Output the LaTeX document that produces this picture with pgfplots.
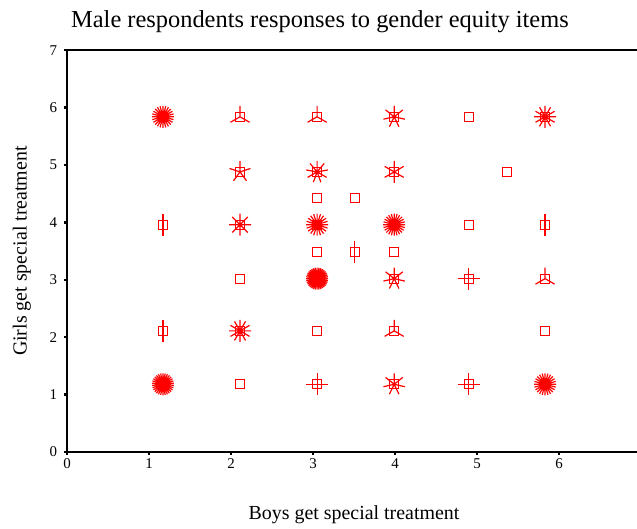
\documentclass[border=0pt]{standalone}
\usepackage{pgfplots}
\pgfplotsset{compat=1.18}
\usepackage{pgfplotstable}
\usepackage{fontspec}
\setmainfont{Liberation Serif}
\definecolor{sfred}{RGB}{255,0,0}

\pgfplotstableread{
x y n
1.17 5.84 24
2.11 5.84 3
3.05 5.84 3
3.99 5.84 7
4.90 5.84 1
5.83 5.84 12
2.11 4.88 5
3.05 4.88 9
3.99 4.88 6
5.37 4.88 1
3.05 4.43 1
3.51 4.43 1
1.17 3.96 2
2.11 3.96 8
3.05 3.96 20
3.99 3.96 24
4.90 3.96 1
5.83 3.96 2
3.05 3.49 1
3.51 3.49 2
3.99 3.49 1
2.11 3.02 1
3.05 3.02 36
3.99 3.02 7
4.90 3.02 4
5.83 3.02 3
1.17 2.11 2
2.11 2.11 12
3.05 2.11 1
3.99 2.11 3
5.83 2.11 1
1.17 1.18 30
2.11 1.18 1
3.05 1.18 4
3.99 1.18 7
4.90 1.18 4
5.83 1.18 24
}\sunflowers

\pgfdeclareplotmark{sunflower}{%
  \pgfmathtruncatemacro\np{\petals}%
  \ifnum\np>1
    \pgfmathsetmacro\stepang{360/\np}%
    \pgfplotsforeachungrouped \k in {1,...,\np}{%
      \pgfmathsetmacro\ang{90+\stepang*(\k-1)}%
      \pgfpathmoveto{\pgfpointorigin}%
      \pgfpathlineto{\pgfpointpolar{\ang}{11bp}}%
    }%
    \pgfusepathqstroke
  \fi
  {\pgfsetcornersarced{\pgfpoint{2.3bp}{2.3bp}}%
  \pgfpathmoveto{\pgfpoint{0bp}{-4.5bp}}%
  \pgfpathlineto{\pgfpoint{4.5bp}{-4.5bp}}%
  \pgfpathlineto{\pgfpoint{4.5bp}{4.5bp}}%
  \pgfpathlineto{\pgfpoint{-4.5bp}{4.5bp}}%
  \pgfpathlineto{\pgfpoint{-4.5bp}{-4.5bp}}%
  \pgfpathclose
  \pgfusepathqstroke}%
}

\begin{document}
\begin{tikzpicture}
\begin{axis}[
  x=82bp, y=57.4bp,
  xmin=0, xmax=7, ymin=0, ymax=7,
  xtick={0,...,7}, ytick={0,...,7},
  xtick pos=lower, ytick pos=left,
  tick align=outside,
  major tick length=2.5bp,
  tick style={line width=2.5bp, black},
  axis line style={line width=1.4bp},
  /pgf/number format/assume math mode=true,
  ticklabel style={font=\fontsize{15}{15}\selectfont},
  xticklabel style={yshift=-1bp},
  yticklabel style={xshift=-4bp},
  title={Male respondents responses to gender equity items},
  title style={at={(axis cs:3.085,7.4)}, anchor=center, font=\fontsize{24.5}{24.5}\selectfont},
  xlabel={Boys get special treatment},
  ylabel={Girls get special treatment},
  label style={font=\fontsize{20}{20}\selectfont},
  xlabel style={at={(axis cs:3.5,-1.1)}, anchor=center},
  ylabel style={at={(axis cs:-0.55,3.5)}, anchor=center},
  clip=false,
]
\addplot[
  scatter, only marks, mark=sunflower,
  line width=1.2bp,
  scatter/use mapped color={draw=sfred, fill=sfred},
  point meta=\thisrow{n},
  visualization depends on={\thisrow{n} \as \petals},
] table[x=x, y=y] {\sunflowers};
\coordinate (o) at (axis cs:0,0);
\end{axis}
\pgfresetboundingbox
\path (o) ++(-67bp,-77bp) rectangle ++(637bp,529bp);
\end{tikzpicture}
\end{document}
